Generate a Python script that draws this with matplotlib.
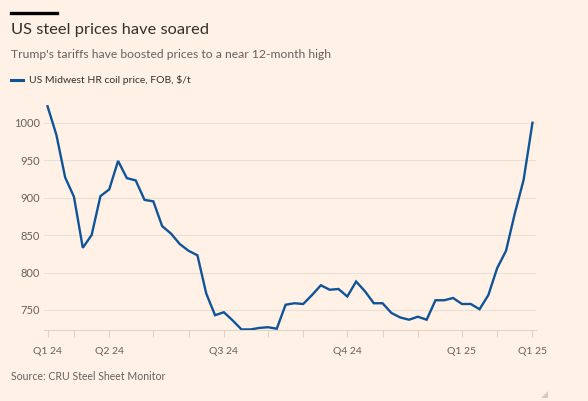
import matplotlib
matplotlib.use("Agg")
import matplotlib.pyplot as plt
from matplotlib.patches import Polygon
from matplotlib.lines import Line2D

prices = [1022, 984, 927, 901, 833, 850, 902, 911, 949, 926,
          923, 897, 895, 862, 852, 838, 829, 823, 772, 743,
          747, 736, 724, 724, 726, 727, 725, 757, 759, 758,
          770, 783, 777, 778, 768, 788, 775, 759, 759, 746,
          740, 737, 741, 737, 763, 763, 766, 758, 758, 751,
          770, 806, 829, 879, 924, 1000]
tick_idx = [0, 3, 7, 12, 16, 20, 25, 29, 34, 38, 42, 47, 51, 55]
tick_labels = ["Q1 24", "", "Q2 24", "", "", "Q3 24", "", "", "Q4 24", "", "", "Q1 25", "", "Q1 25"]
yticks = [750, 800, 850, 900, 950, 1000]

BG = "#fff1e5"
GRID = "#eadfd5"
GREY = "#66605c"
BLUE = "#0f5499"
FONT = ["Lato", "DejaVu Sans"]

plt.rcParams['font.family'] = FONT
W, H = 588, 401
fig = plt.figure(figsize=(W / 100, H / 100), dpi=100, facecolor=BG)

def fx(px):
    return px / W

def fy(py):
    return 1 - py / H

ax_left, ax_right, ax_top, ax_bottom = 44, 536, 104.0, 330.2
ax = fig.add_axes([fx(ax_left), fy(ax_bottom), fx(ax_right - ax_left), (ax_bottom - ax_top) / H])
ax.set_facecolor(BG)
x = list(range(len(prices)))
ax.plot(x, prices, color=BLUE, lw=1.7, solid_joinstyle='miter', zorder=3)
ax.set_xlim(-0.4, 55.4)
ax.set_ylim(723, 1025)
ax.set_yticks(yticks)
ax.set_yticklabels([str(v) for v in yticks])
for v in yticks:
    ax.axhline(v, color=GRID, lw=0.8, zorder=1)
ax.set_xticks(tick_idx)
ax.set_xticklabels(tick_labels)
for s in ["top", "right", "left"]:
    ax.spines[s].set_visible(False)
ax.spines["bottom"].set_color("#e0d3c8")
ax.spines["bottom"].set_linewidth(0.8)
ax.tick_params(axis='y', length=0, pad=3, labelsize=8, labelcolor=GREY)
ax.tick_params(axis='x', length=5, width=0.8, color="#e0d3c8", pad=7, labelsize=7.5, labelcolor=GREY)

# top black bar
fig.add_artist(Line2D([fx(11), fx(57)], [fy(12.5), fy(12.5)], color="#000000", lw=2.4))
fig.text(fx(11), fy(30), "US steel prices have soared", fontsize=11.8, color="#33302e",
         ha="left", va="center")
fig.text(fx(11), fy(55), "Trump's tariffs have boosted prices to a near 12-month high",
         fontsize=8.7, color=GREY, ha="left", va="center")
fig.add_artist(Line2D([fx(11), fx(23)], [fy(79.5), fy(79.5)], color=BLUE, lw=2.2))
fig.text(fx(29), fy(80), "US Midwest HR coil price, FOB, $/t", fontsize=7.5, color="#33302e",
         ha="left", va="center")
fig.text(fx(11), fy(377), "Source: CRU Steel Sheet Monitor", fontsize=7.6, color=GREY,
         ha="left", va="center")
fig.add_artist(Polygon([[fx(548), fy(391)], [fx(548), fy(398)], [fx(541), fy(398)]],
                       closed=True, color="#d8ccc2", lw=0))

fig.savefig("out.png", dpi=100, facecolor=BG)
